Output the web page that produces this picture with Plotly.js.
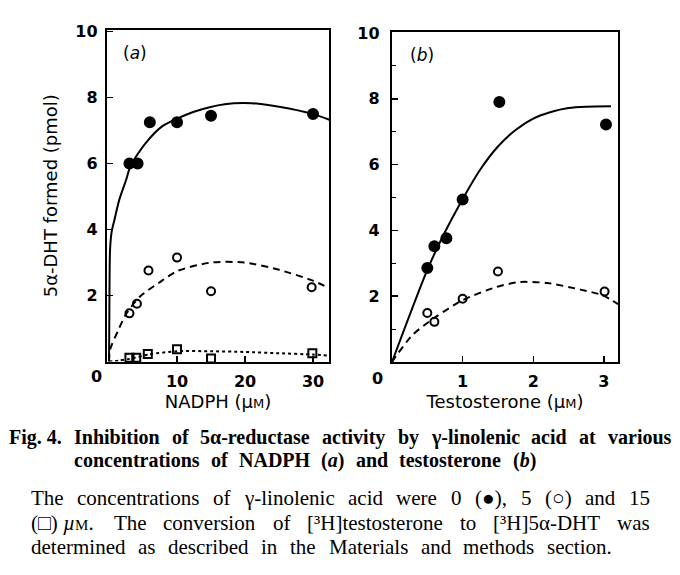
<!DOCTYPE html>
<html>
<head>
<meta charset="utf-8">
<script src="https://cdn.plot.ly/plotly-3.0.1.min.js"></script>
<style>html,body{margin:0;padding:0;background:#fff}</style>
</head>
<body>
<div id="fig" style="width:680px;height:575px"></div>
<script>
// panel (a): NADPH series, gamma-linolenic acid 0, 5, 15 uM
var nadph_0 = [3, 4.2, 6, 10, 15, 30]
var dht_a0 = [6.0, 6.0, 7.25, 7.25, 7.45, 7.5]
var nadph_5 = [3, 4.1, 5.8, 10, 15, 29.8]
var dht_a5 = [1.46, 1.75, 2.76, 3.15, 2.13, 2.25]
var nadph_15 = [3, 4, 5.7, 10, 15, 29.9]
var dht_a15 = [0.11, 0.11, 0.23, 0.37, 0.09, 0.25]

// fitted curves of panel (a)
var fitA0_x = [0, 0.05, 0.15, 0.4, 0.8, 1.5, 2.5, 3.2, 5.3, 7.75, 10.2, 12.6, 17, 21, 25, 30, 32.4]
var fitA0_y = [0, 1.6, 3.4, 3.95, 4.3, 4.9, 5.5, 5.95, 6.6, 7.12, 7.38, 7.58, 7.8, 7.83, 7.72, 7.5, 7.33]
var fitA5_x = [0, 0.15, 1.4, 2.6, 4.6, 7.3, 10, 15, 20, 25, 30, 32.4]
var fitA5_y = [0, 0.36, 0.97, 1.47, 1.98, 2.38, 2.74, 3.0, 3.0, 2.78, 2.45, 2.22]
var fitA15_x = [0, 1.5, 3, 6, 10, 15, 20, 25, 30, 32.4]
var fitA15_y = [0, 0.03, 0.08, 0.22, 0.31, 0.31, 0.29, 0.25, 0.21, 0.18]

// panel (b): testosterone series
var testo_0 = [0.5, 0.6, 0.77, 1, 1.52, 3.03]
var dht_b0 = [2.86, 3.52, 3.76, 4.94, 7.9, 7.22]
var testo_5 = [0.5, 0.6, 1, 1.5, 3.01]
var dht_b5 = [1.49, 1.22, 1.92, 2.75, 2.14]

var fitB0_x = [0, 0.5, 0.75, 1, 1.25, 1.5, 1.75, 2, 2.25, 2.5, 2.75, 3.1]
var fitB0_y = [0, 2.8, 3.95, 4.95, 5.85, 6.55, 7.05, 7.4, 7.6, 7.72, 7.76, 7.77]
var fitB5_x = [0, 0.03, 0.29, 0.62, 1, 1.48, 1.81, 2.2, 2.67, 2.98, 3.2]
var fitB5_y = [0, 0.1, 0.82, 1.37, 1.88, 2.28, 2.43, 2.4, 2.2, 2.03, 1.76]

var ticksA_x = [10, 20, 30]
var ticksB_x = [1, 2, 3]
var ticksY = [2, 4, 6, 8, 10]

var W = 680, H = 575
function px(x) { return x / W }
function py(y) { return 1 - y / H }

function kurve(x, y, ax, dash) {
	return {
		type: 'scatter', mode: 'lines', x: x, y: y,
		xaxis: ax[0], yaxis: ax[1], hoverinfo: 'skip',
		line: {color: 'black', width: 2, dash: dash, shape: 'spline', smoothing: 0.7}
	}
}
function punkte(x, y, ax, symbol, size) {
	return {
		type: 'scatter', mode: 'markers', x: x, y: y,
		xaxis: ax[0], yaxis: ax[1], cliponaxis: false,
		marker: {symbol: symbol, size: size, color: 'black', line: {color: 'black', width: 2}}
	}
}

var A = ['x', 'y'], B = ['x2', 'y2']
var dane = [
	kurve(fitA0_x, fitA0_y, A, 'solid'),
	kurve(fitA5_x, fitA5_y, A, '7px,5px'),
	kurve(fitA15_x, fitA15_y, A, '3px,3px'),
	punkte(nadph_0, dht_a0, A, 'circle', 10),
	punkte(nadph_5, dht_a5, A, 'circle-open', 8),
	punkte(nadph_15, dht_a15, A, 'square-open', 8),
	kurve(fitB0_x, fitB0_y, B, 'solid'),
	kurve(fitB5_x, fitB5_y, B, '7px,5px'),
	punkte(testo_0, dht_b0, B, 'circle', 10),
	punkte(testo_5, dht_b5, B, 'circle-open', 8)
]

var tickFont = {family: 'DejaVu Sans', size: 16, color: 'black', weight: 'bold'}
var titleFont = {family: 'DejaVu Sans', size: 18, color: 'black'}
var um = '(\u00b5<span style="font-size:13px">M</span>)'

function os(extra) {
	var o = {
		showline: true, mirror: true, linewidth: 2.2, linecolor: 'black',
		ticks: 'inside', ticklen: 6, tickwidth: 1.5, tickcolor: 'black',
		showgrid: false, zeroline: false, tickfont: tickFont,
		fixedrange: true
	}
	for (var k in extra) o[k] = extra[k]
	return o
}

var layout = {
	width: W, height: H,
	margin: {l: 0, r: 0, t: 0, b: 0},
	paper_bgcolor: 'white', plot_bgcolor: 'white',
	showlegend: false,
	font: {family: 'DejaVu Sans', color: 'black'},
	xaxis: os({domain: [px(107), px(329)], range: [-0.3, 32.35], anchor: 'y',
		tickvals: ticksA_x, ticklabelstandoff: 4,
		title: {text: 'NADPH ' + um, font: titleFont, standoff: 4}}),
	yaxis: os({domain: [py(361.5), py(30)], range: [0, 10.05], anchor: 'x',
		tickvals: ticksY, ticklabelstandoff: 4,
		title: {text: '5\u03b1-DHT formed (pmol)', font: titleFont, standoff: 13}}),
	xaxis2: os({domain: [px(392), px(618)], range: [0, 3.2], anchor: 'y2',
		tickvals: ticksB_x, ticklabelstandoff: 4,
		title: {text: 'Testosterone ' + um, font: titleFont, standoff: 4}}),
	yaxis2: os({domain: [py(362), py(32)], range: [0, 10.03], anchor: 'x2',
		tickvals: ticksY, ticklabelstandoff: 7,
		minor: {dtick: 1, ticks: 'inside', ticklen: 4, tickwidth: 1.2, tickcolor: 'black'}}),
	annotations: []
}

var ann = layout.annotations
// shared "0" at the origin of each panel
ann.push({xref: 'paper', yref: 'paper', x: px(96), y: py(377), text: '0', showarrow: false, font: tickFont, xanchor: 'center', yanchor: 'middle'})
ann.push({xref: 'paper', yref: 'paper', x: px(377), y: py(378), text: '0', showarrow: false, font: tickFont, xanchor: 'center', yanchor: 'middle'})
ann.push({xref: 'paper', yref: 'paper', x: px(135), y: py(53), text: '(<i>a</i>)', showarrow: false, font: {family: 'DejaVu Sans', size: 17, color: 'black'}, xanchor: 'center', yanchor: 'middle'})
ann.push({xref: 'paper', yref: 'paper', x: px(422), y: py(55), text: '(<i>b</i>)', showarrow: false, font: {family: 'DejaVu Sans', size: 17, color: 'black'}, xanchor: 'center', yanchor: 'middle'})

// caption, word by word so the lines come out justified
var cv = document.createElement('canvas').getContext('2d')
function wiersz(line, y, x0, x1, size, bold) {
	var ws = line.split(/ (?![^<]*>)/)
	cv.font = (bold ? 'bold ' : '') + size + 'px "Liberation Serif"'
	var wid = ws.map(function (w) {
		var plain = w.replace(/<span[^>]*>([^<]*)<\/span>/g, function (m, t) { return t.toLowerCase() }).replace(/<[^>]+>/g, '')
		return cv.measureText(plain).width
	})
	var sum = wid.reduce(function (a, b) { return a + b }, 0)
	var gap = ws.length > 1 ? (x1 - x0 - sum) / (ws.length - 1) : 0
	var x = x0
	for (var i = 0; i < ws.length; i++) {
		ann.push({xref: 'paper', yref: 'paper', x: px(x), y: py(y), text: bold ? '<b>' + ws[i] + '</b>' : ws[i],
			showarrow: false, xanchor: 'left', yanchor: 'middle',
			font: {family: 'Liberation Serif', size: size, color: 'black'}})
		x += wid[i] + gap
	}
}
var capSize = 20, bodySize = 21
ann.push({xref: 'paper', yref: 'paper', x: px(7), y: py(437), text: '<b>Fig. 4.</b>', showarrow: false,
	xanchor: 'left', yanchor: 'middle', font: {family: 'Liberation Serif', size: capSize, color: 'black'}})
wiersz('Inhibition of 5\u03b1-reductase activity by \u03b3-linolenic acid at various', 437, 72, 669, capSize, true)
wiersz('concentrations of NADPH (<i>a</i>) and testosterone (<i>b</i>)', 460, 72, 535, capSize, true)
wiersz('The concentrations of \u03b3-linolenic acid were 0 (\u25cf), 5 (\u25cb) and 15', 498, 29, 648, bodySize, false)
wiersz('(\u25a1)\u00a0<i>\u00b5</i><span style="font-size:15px">M</span>. The conversion of [\u00b3H]testosterone to [\u00b3H]5\u03b1-DHT was', 523, 29, 648, bodySize, false)
wiersz('determined as described in the Materials and methods section.', 547, 29, 610, bodySize, false)

Plotly.newPlot('fig', dane, layout, {staticPlot: true})
</script>
</body>
</html>
